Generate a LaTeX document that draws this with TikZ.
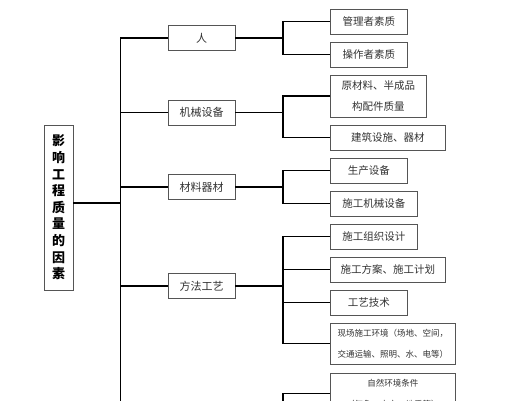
\documentclass[tikz,border=0pt]{standalone}
\usepackage{fontspec}
\usepackage{xcolor}
\usepackage{tikz}
\usetikzlibrary{calc}
\newfontfamily\cjk{Noto Sans CJK SC}
\definecolor{ink}{HTML}{000000}
\definecolor{frame}{HTML}{555555}
\definecolor{word}{HTML}{333333}
\tikzset{
  link/.style={draw=ink, line width=1.5pt},
  box/.style={draw=frame, line width=0.8pt, fill=white, inner sep=2pt, text=word, align=center,
    font=\cjk\fontsize{10.5}{21}\selectfont},
  cat/.style={box, minimum width=67pt, minimum height=25pt, font=\cjk\fontsize{11}{13}\selectfont},
  leaf/.style={box, anchor=west, minimum height=25pt},
  small/.style={font=\cjk\fontsize{8.5}{21}\selectfont, minimum height=41pt},
  root/.style={box, minimum width=29pt, minimum height=165pt, text=ink,
    font=\cjk\bfseries\fontsize{13}{16.6}\selectfont}
}

\begin{document}
\begin{tikzpicture}[x=1pt,y=-1pt]
  \clip (0,0) rectangle (529,400);
  \fill[white] (0,0) rectangle (529,400);
  \coordinate (T) at (120.5,0);
  \coordinate (Tend) at (120.5,410);
  \coordinate (S) at (283,0);
  \coordinate (Send) at (283,410);
  % root
  \node[root] (R) at (58.5,207.5) {影\\响\\工\\程\\质\\量\\的\\因\\素};
  % first level
  \node[cat] (ren) at (201.5,38) {人};
  \node[cat] (jx) at (201.5,112.5) {机械设备};
  \node[cat] (cl) at (201.5,187) {材料器材};
  \node[cat] (ff) at (201.5,286) {方法工艺};
  \draw[link] (ren.west) -| (Tend);
  \draw[link] ([yshift=4.5pt]R.east) -- ([yshift=4.5pt]R.east -| T);
  \foreach \n in {jx,cl,ff}{
    \draw[link] (\n.west) -- (\n.west -| T);
  }
  \foreach \n in {ren,jx,cl,ff}{
    \draw[link] (\n.east) -- (\n.east -| S);
  }
  % second level
  \node[leaf, minimum width=77pt] (gl) at (330,21.5) {管理者素质};
  \node[leaf, minimum width=77pt] (cz) at (330,54.5) {操作者素质};
  \node[leaf, minimum width=96pt, minimum height=42pt] (yc) at (330,96) {原材料、半成品\\构配件质量};
  \node[leaf, minimum width=115pt] (jz) at (330,137.5) {建筑设施、器材};
  \node[leaf, minimum width=77pt] (sc) at (330,170.5) {生产设备};
  \node[leaf, minimum width=87pt] (sg) at (330,203.5) {施工机械设备};
  \node[leaf, minimum width=87pt] (zz) at (330,236.5) {施工组织设计};
  \node[leaf, minimum width=115pt] (fa) at (330,269.5) {施工方案、施工计划};
  \node[leaf, minimum width=77pt] (gy) at (330,302.5) {工艺技术};
  \node[leaf, small, minimum width=125pt] (xc) at (330,343.5) {现场施工环境（场地、空间，\\交通运输、照明、水、电等）};
  \node[leaf, small, minimum width=125pt] (zr) at (330,393.5) {自然环境条件\\（气象、水文、地质等）};
  \draw[link] (gl.west) -| (cz.west -| S) -- (cz.west);
  \draw[link] (yc.west) -| (jz.west -| S) -- (jz.west);
  \draw[link] (sc.west) -| (sg.west -| S) -- (sg.west);
  \draw[link] (zz.west) -| (xc.west -| S) -- (xc.west);
  \foreach \n in {fa,gy}{
    \draw[link] (\n.west) -- (\n.west -| S);
  }
  \draw[link] (zr.west) -| (Send);
\end{tikzpicture}
\end{document}
